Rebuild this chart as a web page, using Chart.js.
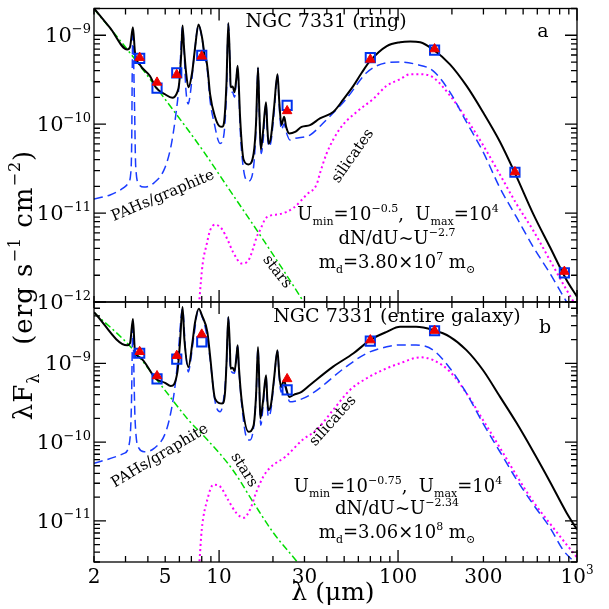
<!DOCTYPE html>
<html><head><meta charset="utf-8">
<script src="https://cdn.jsdelivr.net/npm/chart.js@4.4.0/dist/chart.umd.min.js"></script>
<style>
html,body{margin:0;padding:0;background:#fff;}
#wrap{position:relative;width:609px;height:609px;background:#fff;}
canvas{position:absolute;left:0;top:0;}
</style></head><body>
<div id="wrap"><canvas id="ca" width="609" height="609"></canvas><canvas id="cb" width="609" height="609"></canvas></div>
<script>
// ---------- DATA (wavelength in micron, lambda F_lambda in erg s^-1 cm^-2) ----------
// Panel a : NGC 7331 (ring)
const lamA_total = [2.0,2.46,3.07,3.18,3.30,3.39,3.61,4.11,4.43,4.99,5.48,5.84,5.98,6.15,6.25,6.37,6.54,6.74,7.07,7.34,7.67,8.04,8.34,8.5,8.67,8.9,9.49,10.0,10.4,10.7,11.0,11.26,11.5,11.6,11.9,12.2,12.5,12.7,12.9,13.1,13.7,14.6,15.6,16.1,16.5,16.8,17.1,17.6,18.3,18.6,18.9,19.5,20.3,21.2,21.7,22.3,23.1,23.7,24.7,26.6,28.9,32.2,36.6,43.4,49.6,56.4,62.8,69.8,86.5,102.6,117,133,157,195,241,298,371,450,570,706,874,1000];
const fA_total = [2.01e-9,1.21e-9,6.92e-10,7.4e-10,1.23e-9,6.36e-10,4.67e-10,3.48e-10,2.60e-10,2.17e-10,1.98e-10,2.29e-10,2.83e-10,6.36e-10,1.29e-9,7.22e-10,3.81e-10,2.60e-10,3.81e-10,7.22e-10,1.32e-9,9.33e-10,5.6e-10,5.18e-10,3.81e-10,2.19e-10,1.21e-10,9.57e-11,9.33e-11,1.12e-10,2.95e-10,1.37e-9,4.92e-10,2.60e-10,2.66e-10,2.29e-10,3.36e-10,4.53e-10,2.6e-10,1.21e-10,4.01e-11,3.53e-11,4.68e-11,1.06e-10,4.34e-10,1.37e-10,5.18e-11,8.2e-11,1.77e-10,9.33e-11,6.04e-11,7.21e-11,1.56e-10,3.65e-10,1.77e-10,9.8e-11,1.21e-10,9.33e-11,7.87e-11,8.2e-11,9.33e-11,9.75e-11,1.16e-10,1.37e-10,1.91e-10,2.71e-10,3.81e-10,5.14e-10,7.55e-10,8.36e-10,8.53e-10,8.36e-10,6.92e-10,4.71e-10,2.71e-10,1.37e-10,6.35e-11,2.82e-11,9.75e-12,4.15e-12,1.77e-12,1.15e-12];
const lamA_pah = [2.0,2.46,2.92,3.11,3.21,3.25,3.27,3.30,3.34,3.37,3.42,3.57,3.81,4.33,4.93,5.38,5.74,5.98,6.25,6.53,6.72,6.94,7.24,7.67,8.04,8.34,8.5,8.67,8.9,9.49,9.85,10.12,10.6,11.0,11.26,11.5,11.6,11.9,12.2,12.7,12.9,13.1,13.7,14.6,15.6,16.1,16.5,16.8,17.2,17.6,18.3,18.6,18.95,19.5,20.3,21.2,21.7,22.3,23.1,23.7,24.9,26.6,32.2,38.7,51.3,66.9,86.5,102.6,126,157,195,241,298,371,460,570,706,840,1000];
const fA_pah = [1.44e-11,1.60e-11,1.92e-11,2.17e-11,2.82e-11,6.7e-11,3.65e-10,1.17e-9,3.81e-10,1.56e-10,3.36e-11,2.1e-11,1.96e-11,2.19e-11,3.08e-11,5.6e-11,1.31e-10,2.83e-10,1.24e-9,2.39e-10,1.69e-10,2.39e-10,5.6e-10,1.29e-9,9.1e-10,5.32e-10,4.9e-10,3.36e-10,1.86e-10,9.33e-11,6.7e-11,6.08e-11,7.23e-11,2.29e-10,1.34e-9,4.7e-10,2.4e-10,2.29e-10,2.01e-10,4.4e-10,2.29e-10,9.33e-11,3.1e-11,2.29e-11,3.36e-11,9.33e-11,4.25e-10,1.21e-10,4.68e-11,6.35e-11,1.68e-10,8.2e-11,5.6e-11,6.35e-11,1.37e-10,3.53e-10,1.55e-10,8.65e-11,1.01e-10,8.2e-11,6.64e-11,6.92e-11,7.55e-11,1.06e-10,1.92e-10,3.81e-10,4.92e-10,5.01e-10,4.71e-10,3.98e-10,2.29e-10,1.06e-10,4.92e-11,1.92e-11,8.93e-12,4.15e-12,2.1e-12,1.15e-12,6.4e-13];
const lamA_sil = [7.62,7.75,8.1,8.5,8.9,9.49,10.36,11.2,11.96,13.4,14.6,15.5,16.2,16.9,18.4,21.9,26.1,31,35.1,36.6,39.9,47.4,58.6,72.6,86.5,102.6,117,133,157,195,241,298,371,460,570,706,874,1000];
const fA_sil = [6.4e-13,1.02e-12,2.71e-12,4.34e-12,6.35e-12,7.41e-12,6.64e-12,4.92e-12,3.65e-12,2.71e-12,2.95e-12,4.01e-12,5.36e-12,6.35e-12,8.93e-12,9.75e-12,1.15e-11,1.63e-11,2.1e-11,2.79e-11,4.68e-11,8.93e-11,1.37e-10,1.92e-10,2.71e-10,3.21e-10,3.65e-10,3.65e-10,3.36e-10,2.1e-10,1.15e-10,5.85e-11,2.71e-11,1.26e-11,6.35e-12,2.95e-12,1.37e-12,8.65e-13];
const lamA_star = [2.0,3.07,4.99,8.2,10.79,17.9,29.6,32.2];
const fA_star = [1.98e-9,6.92e-10,1.91e-10,4.92e-11,2.17e-11,4.8e-12,1.01e-12,7.6e-13];
const bandsA = [3.6,4.5,5.8,8.0,24,70,160,450,850];
const obsA = [5.5e-10,2.55e-10,3.78e-10,5.93e-10,1.63e-10,5.6e-10,6.81e-10,2.88e-11,2.13e-12];
const modA = [5.6e-10,2.95e-10,3.6e-10,5.8e-10,1.41e-10,5.35e-10,7.0e-10,2.9e-11,2.2e-12];

// Panel b : NGC 7331 (entire galaxy)
const lamB_total = [2.0,3.07,3.18,3.30,3.39,3.61,4.43,4.99,5.37,5.85,6.05,6.25,6.4,6.74,7.1,7.34,7.7,8.04,8.6,8.9,9.49,10.4,10.8,11.0,11.26,11.5,11.6,11.9,12.2,12.5,12.7,12.9,13.4,14.6,15.6,16.1,16.5,16.8,17.0,17.6,18.3,18.6,18.85,19.5,20.3,21.2,21.7,22.2,23.1,23.7,24.7,26.1,28.9,32.2,43.4,56.4,69.8,86.5,102.6,126,157,195,241,298,371,460,570,706,874,1000];
const fB_total = [4.45e-9,1.69e-9,1.8e-9,3.66e-9,1.39e-9,1.19e-9,6.38e-10,5.64e-10,5.16e-10,7.76e-10,1.86e-9,5.17e-9,2.0e-9,8.97e-10,1.86e-9,3.3e-9,4.91e-9,4.0e-9,2.49e-9,1.26e-9,3.56e-10,3.08e-10,4.34e-10,1.0e-9,3.86e-9,1.5e-9,8.55e-10,8.8e-10,8.0e-10,1.2e-9,1.69e-9,9.0e-10,3.24e-10,1.35e-10,1.64e-10,4.0e-10,1.61e-9,5.0e-10,1.99e-10,3.3e-10,7.05e-10,3.5e-10,2.54e-10,3.0e-10,6.5e-10,1.46e-9,7.0e-10,5.0e-10,6.1e-10,4.8e-10,3.74e-10,3.97e-10,4.34e-10,5.3e-10,9.06e-10,1.34e-9,1.97e-9,2.51e-9,2.9e-9,2.9e-9,2.64e-9,2.17e-9,1.47e-9,8.22e-10,3.77e-10,1.74e-10,7.53e-11,3.14e-11,1.27e-11,7.76e-12];
const lamB_pah = [2.0,2.94,3.14,3.24,3.27,3.30,3.34,3.39,3.57,3.81,4.33,5.04,5.47,5.74,5.9,6.25,6.5,6.74,6.9,7.24,7.67,8.04,8.5,8.9,9.49,10.12,10.6,11.0,11.26,11.6,12.2,12.7,12.9,13.4,14.3,14.9,16.1,16.5,16.8,17.1,17.6,18.3,18.6,18.85,19.5,20.3,21.2,21.7,22.2,23.1,24.9,26.1,32.2,51.3,66.9,86.5,102.6,126,157,195,241,298,371,460,570,706,840,1000];
const fB_pah = [5.36e-11,7.18e-11,9.16e-11,3.24e-10,1.39e-9,3.5e-9,8.55e-10,1.99e-10,8.3e-11,7.53e-11,8.3e-11,1.35e-10,2.94e-10,6.38e-10,1.26e-9,4.9e-9,1.4e-9,7.76e-10,1.0e-9,2.26e-9,4.85e-9,3.9e-9,2.4e-9,1.15e-9,3.3e-10,2.42e-10,3.5e-10,9.5e-10,3.8e-9,8.2e-10,7.5e-10,1.65e-9,8.5e-10,2.9e-10,1.11e-10,1.06e-10,3.7e-10,1.58e-9,4.5e-10,1.64e-10,2.8e-10,6.8e-10,2.9e-10,2.09e-10,2.6e-10,6.2e-10,1.42e-9,6.5e-10,4.3e-10,5.2e-10,3.24e-10,3.27e-10,3.97e-10,9.06e-10,1.34e-9,1.62e-9,1.71e-9,1.71e-9,1.47e-9,8.65e-10,4.17e-10,1.74e-10,7.53e-11,3.33e-11,1.61e-11,8.22e-12,4.2e-12,2.8e-12];
const lamB_sil = [7.6,7.75,8.0,8.6,9.3,10.1,11.2,12.48,13.7,14.9,16.2,17.7,19.2,23.6,29.3,35.1,43.4,53.9,66.9,86.5,102.6,133,157,195,241,298,371,460,570,706,874,1000];
const fB_sil = [2.0e-12,2.88e-12,7.76e-12,1.86e-11,2.88e-11,2.74e-11,1.86e-11,1.26e-11,1.09e-11,1.39e-11,2.37e-11,3.67e-11,4.69e-11,6.58e-11,1.07e-10,1.43e-10,2.56e-10,4.59e-10,6.46e-10,8.65e-10,1.0e-9,1.19e-9,1.1e-9,7.83e-10,4.17e-10,1.91e-10,8.47e-11,3.74e-11,1.75e-11,9.23e-12,5.0e-12,3.43e-12];
const lamB_star = [2.0,3.21,4.99,6.74,8.6,11.9,15.6,20.1,27.7,30.2];
const fB_star = [4.4e-9,1.61e-9,4.53e-10,1.91e-10,1.07e-10,4.46e-11,1.69e-11,7.05e-12,2.88e-12,2.2e-12];
const bandsB = [3.6,4.5,5.8,8.0,24,70,160];
const obsB = [1.34e-9,6.33e-10,1.13e-9,1.87e-9,4.59e-10,1.91e-9,2.59e-9];
const modB = [1.40e-9,6.9e-10,1.25e-9,2.33e-9,6.33e-10,1.97e-9,2.6e-9];

// axis ranges and tick labels
const xMin = 2, xMax = 1000;
const xTickVals = [2,5,10,30,100,300,1000];
const xTickText = ['2','5','10','30','100','300','10^3'];
const yA = {min:1e-12, max:2e-9, labels:[-9,-10,-11,-12]};
const yB = {min:3e-12, max:6e-9, labels:[-9,-10,-11]};

// ---------- helpers ----------
const SERIF = 'DejaVu Serif';
function pts(l,f){return l.map((x,i)=>({x:x,y:f[i]}));}
function drawRich(ctx, segs, x, y, size, align){
  let w=0; const m=[];
  segs.forEach(s=>{
    const fs = (s.sup||s.sub)? Math.round(size*0.62) : size;
    ctx.font = fs+'px "'+SERIF+'"';
    const ww = ctx.measureText(s.t).width;
    m.push({fs,ww}); w+=ww;
  });
  let cx = align==='center'? x-w/2 : align==='right'? x-w : x;
  ctx.textBaseline='alphabetic'; ctx.textAlign='left';
  segs.forEach((s,i)=>{
    ctx.font = m[i].fs+'px "'+SERIF+'"';
    const dy = s.sup? -size*0.45 : s.sub? size*0.25 : 0;
    ctx.fillText(s.t, cx, y+dy);
    cx += m[i].ww;
  });
}
function rotText(ctx, t, cx, cy, deg, size){
  ctx.save(); ctx.translate(cx,cy); ctx.rotate(deg*Math.PI/180);
  ctx.font = size+'px "'+SERIF+'"'; ctx.textAlign='center'; ctx.textBaseline='middle';
  ctx.fillText(t,0,0); ctx.restore();
}

const panelPlugin = {
  id:'panel',
  afterDraw(chart, args, opts){
    const ctx = chart.ctx, a = chart.chartArea;
    const xs = chart.scales.x, ys = chart.scales.y;
    ctx.save();
    ctx.strokeStyle='#000'; ctx.fillStyle='#000'; ctx.lineWidth=1.3;
    ctx.strokeRect(a.left, a.top, a.right-a.left, a.bottom-a.top);
    ctx.beginPath();
    for (let d=1; d<=1000; d*=10){
      for (let k=1;k<=9;k++){
        const v=k*d; if (v<xMin||v>xMax) continue;
        const p = xs.getPixelForValue(v), L = (k===1)?12:6;
        ctx.moveTo(p,a.bottom); ctx.lineTo(p,a.bottom-L);
        ctx.moveTo(p,a.top); ctx.lineTo(p,a.top+L);
      }
    }
    for (let e=-13; e<=-8; e++){
      for (let k=1;k<=9;k++){
        const v=k*Math.pow(10,e); if (v<ys.min*0.999||v>ys.max*1.001) continue;
        const p = ys.getPixelForValue(v), L=(k===1)?12:6;
        ctx.moveTo(a.left,p); ctx.lineTo(a.left+L,p);
        ctx.moveTo(a.right,p); ctx.lineTo(a.right-L,p);
      }
    }
    ctx.stroke();
    opts.ylabels.forEach(e=>{
      const p = ys.getPixelForValue(Math.pow(10,e));
      drawRich(ctx,[{t:'10'},{t:'\u2212'+(-e),sup:true}],91,p+7,21,'right');
    });
    if (opts.xlabels){
      xTickVals.forEach((v,i)=>{
        const p = xs.getPixelForValue(v); const t = xTickText[i];
        if (t.indexOf('^')>=0){ const s=t.split('^'); drawRich(ctx,[{t:s[0]},{t:s[1],sup:true}],p,583,20,'center'); }
        else drawRich(ctx,[{t:t}],p,583,20,'center');
      });
    }
    (opts.texts||[]).forEach(tx=>drawRich(ctx,tx.segs,tx.x,tx.y,tx.size,tx.align));
    (opts.rot||[]).forEach(r=>rotText(ctx,r.t,r.x,r.y,r.a,r.size));
    if (opts.axisTitles){
      drawRich(ctx,[{t:'\u03bb ('},{t:'\u03bcm)'}],333,600,25,'center');
      ctx.save(); ctx.translate(32,285); ctx.rotate(-Math.PI/2);
      ctx.letterSpacing = '1px';
      drawRich(ctx,[{t:'\u03bbF'},{t:'\u03bb',sub:true},{t:'   (erg s'},{t:'\u22121',sup:true},{t:' cm'},{t:'\u22122',sup:true},{t:')'}],0,0,26,'center');
      ctx.restore();
    }
    ctx.restore();
  }
};

function lineDS(l,f,color,width,dash){
  return {data:pts(l,f),showLine:true,borderColor:color,borderWidth:width,borderDash:dash,pointRadius:0,fill:false,cubicInterpolationMode:'monotone'};
}
function makeChart(id, P){
  return new Chart(document.getElementById(id),{
    type:'scatter',
    data:{datasets:[
      {data:pts(P.bands,P.mod),pointStyle:'triangle',pointRadius:5.5,backgroundColor:'#ee0000',borderColor:'#ee0000',borderWidth:1,showLine:false},
      {data:pts(P.bands,P.obs),pointStyle:'rect',pointRadius:6.5,backgroundColor:'rgba(0,0,0,0)',borderColor:'#0033ee',borderWidth:2,showLine:false},
      lineDS(P.lt,P.ft,'#000000',2,[]),
      lineDS(P.lp,P.fp,'#1a3cff',1.5,[9,5]),
      lineDS(P.ls,P.fs,'#ff00ff',2,[2,3]),
      lineDS(P.lst,P.fst,'#00dd00',1.5,[7,3,2,3])
    ]},
    options:{
      responsive:false, animation:false, events:[],
      layout:{padding:P.pad},
      scales:{
        x:{type:'logarithmic',min:xMin,max:xMax,display:false},
        y:{type:'logarithmic',min:P.y.min,max:P.y.max,display:false}
      },
      plugins:{legend:{display:false},tooltip:{enabled:false},panel:P.panel}
    },
    plugins:[panelPlugin]
  });
}

makeChart('ca',{
  bands:bandsA,obs:obsA,mod:modA,lt:lamA_total,ft:fA_total,lp:lamA_pah,fp:fA_pah,ls:lamA_sil,fs:fA_sil,lst:lamA_star,fst:fA_star,
  y:yA, pad:{left:94,right:32,top:6,bottom:307},
  panel:{ylabels:yA.labels, xlabels:false, axisTitles:true,
    texts:[
      {segs:[{t:'NGC 7331 (ring)'}],x:326,y:27,size:19,align:'center'},
      {segs:[{t:'a'}],x:543,y:37,size:19,align:'center'},
      {segs:[{t:'U'},{t:'min',sub:true},{t:'=10'},{t:'\u22120.5',sup:true},{t:',  U'},{t:'max',sub:true},{t:'=10'},{t:'4',sup:true}],x:398,y:220,size:18,align:'center'},
      {segs:[{t:'dN/dU~U'},{t:'\u22122.7',sup:true}],x:397,y:244,size:18,align:'center'},
      {segs:[{t:'m'},{t:'d',sub:true},{t:'=3.80\u00d710'},{t:'7',sup:true},{t:' m'},{t:'\u2299',sub:true}],x:397,y:268,size:18,align:'center'}
    ],
    rot:[
      {t:'PAHs/graphite',x:163,y:196,a:-23,size:15},
      {t:'stars',x:277,y:272,a:52,size:15},
      {t:'silicates',x:353,y:156,a:-55,size:15}
    ]}
});
makeChart('cb',{
  bands:bandsB,obs:obsB,mod:modB,lt:lamB_total,ft:fB_total,lp:lamB_pah,fp:fB_pah,ls:lamB_sil,fs:fB_sil,lst:lamB_star,fst:fB_star,
  y:yB, pad:{left:94,right:32,top:302,bottom:47},
  panel:{ylabels:yB.labels, xlabels:true, axisTitles:false,
    texts:[
      {segs:[{t:'NGC 7331 (entire galaxy)'}],x:397,y:322,size:19,align:'center'},
      {segs:[{t:'b'}],x:545,y:333,size:19,align:'center'},
      {segs:[{t:'U'},{t:'min',sub:true},{t:'=10'},{t:'\u22120.75',sup:true},{t:',  U'},{t:'max',sub:true},{t:'=10'},{t:'4',sup:true}],x:398,y:492,size:18,align:'center'},
      {segs:[{t:'dN/dU~U'},{t:'\u22122.34',sup:true}],x:397,y:514,size:18,align:'center'},
      {segs:[{t:'m'},{t:'d',sub:true},{t:'=3.06\u00d710'},{t:'8',sup:true},{t:' m'},{t:'\u2299',sub:true}],x:397,y:538,size:18,align:'center'}
    ],
    rot:[
      {t:'PAHs/graphite',x:160,y:456,a:-31,size:15},
      {t:'stars',x:244,y:470,a:58,size:15},
      {t:'silicates',x:333,y:421,a:-48,size:15}
    ]}
});
</script>
</body></html>
